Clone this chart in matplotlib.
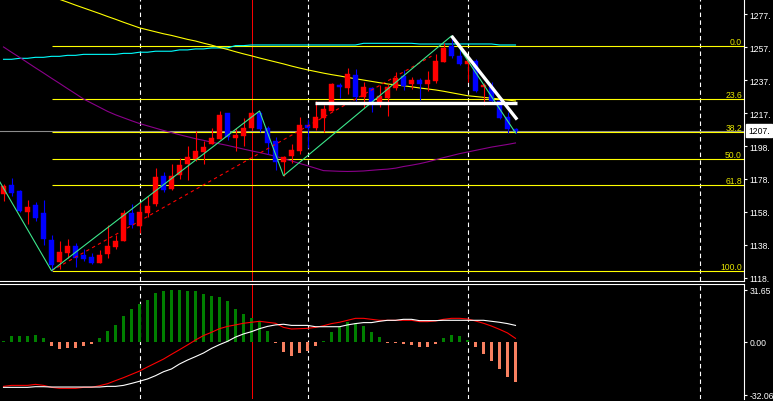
import matplotlib
matplotlib.use("Agg")
import matplotlib.pyplot as plt

plt.rcParams['font.family'] = ['Liberation Sans', 'DejaVu Sans']

# ---- candles, one per bar ----
opens = [1168.9, 1174.6, 1170.7, 1158.2, 1162.2, 1157.4, 1141.0, 1127.8, 1133.1, 1137.2,
         1131.9, 1130.7, 1127.2, 1132.7, 1136.7, 1140.6, 1157.4, 1149.7, 1157.4, 1162.8,
         1179.7, 1172.0, 1180.5, 1187.3, 1190.0, 1194.2, 1199.3, 1202.3, 1218.1, 1202.9,
         1204.3, 1208.8, 1218.3, 1209.0, 1201.1, 1188.5, 1191.8, 1195.2, 1211.0, 1208.8,
         1214.9, 1219.5, 1235.3, 1233.1, 1241.4, 1228.1, 1233.2, 1225.0, 1227.0, 1233.2,
         1240.3, 1235.4, 1238.1, 1235.7, 1237.4, 1249.2, 1259.0, 1252.6, 1248.0, 1249.9,
         1233.9, 1233.9, 1225.1, 1215.9, 1208.4]
highs = [1175.0, 1178.6, 1171.2, 1165.3, 1164.1, 1165.1, 1143.8, 1140.4, 1141.6, 1139.2,
         1135.5, 1132.9, 1134.7, 1150.1, 1143.8, 1159.0, 1162.7, 1164.2, 1167.5, 1184.6,
         1182.2, 1187.1, 1191.0, 1197.9, 1207.0, 1201.1, 1208.9, 1219.2, 1218.2, 1209.0,
         1214.9, 1219.3, 1219.3, 1210.2, 1203.5, 1192.2, 1199.3, 1215.7, 1214.5, 1225.6,
         1222.7, 1236.5, 1236.6, 1245.2, 1244.8, 1236.9, 1233.9, 1235.1, 1235.7, 1243.2,
         1244.2, 1239.7, 1239.2, 1243.6, 1253.9, 1260.3, 1264.9, 1257.0, 1251.5, 1250.9,
         1236.3, 1237.2, 1226.7, 1218.5, 1209.2]
lows = [1164.9, 1167.9, 1157.8, 1150.7, 1152.5, 1138.0, 1122.3, 1123.4, 1129.9, 1124.8,
        1128.2, 1126.6, 1127.0, 1130.2, 1135.5, 1140.4, 1148.5, 1145.1, 1154.7, 1161.6,
        1170.4, 1171.3, 1178.0, 1177.4, 1189.0, 1187.3, 1199.2, 1202.2, 1201.9, 1195.0,
        1198.2, 1207.8, 1206.4, 1193.2, 1183.7, 1180.0, 1187.7, 1193.2, 1196.7, 1207.8,
        1206.7, 1219.4, 1227.2, 1229.6, 1225.1, 1221.1, 1218.9, 1221.7, 1216.5, 1232.2,
        1232.1, 1232.7, 1226.1, 1231.2, 1236.6, 1248.8, 1251.4, 1247.2, 1236.7, 1230.8,
        1222.8, 1224.6, 1214.3, 1206.0, 1206.0]
closes = [1173.6, 1169.5, 1158.8, 1161.0, 1154.2, 1141.6, 1125.6, 1133.5, 1137.2, 1130.1,
          1129.6, 1127.2, 1131.9, 1137.2, 1140.4, 1157.4, 1150.1, 1158.0, 1161.5, 1179.1,
          1171.5, 1179.7, 1186.5, 1191.4, 1195.0, 1197.5, 1202.8, 1217.0, 1203.7, 1204.7,
          1209.2, 1218.1, 1208.4, 1200.1, 1188.2, 1191.2, 1195.6, 1210.8, 1209.2, 1215.7,
          1220.8, 1235.7, 1233.6, 1241.8, 1227.8, 1233.9, 1225.0, 1228.5, 1233.7, 1239.2,
          1234.5, 1238.1, 1235.7, 1238.3, 1249.8, 1257.4, 1252.9, 1248.0, 1249.9, 1231.6,
          1235.1, 1225.1, 1215.2, 1208.1, 1207.4]
bars = list(range(len(opens)))

# moving averages, one value per bar
ma_yellow = [1300.7, 1298.7, 1296.8, 1294.8, 1292.9, 1291.0, 1289.0, 1287.1, 1285.4, 1283.6,
             1281.9, 1280.2, 1278.5, 1276.7, 1275.0, 1273.2, 1271.5, 1269.8, 1268.6, 1267.4,
             1266.2, 1265.2, 1264.0, 1262.8, 1261.8, 1260.5, 1259.3, 1257.9, 1256.7, 1255.3,
             1254.0, 1252.8, 1251.5, 1250.3, 1249.1, 1247.9, 1246.6, 1245.4, 1244.3, 1243.3,
             1242.3, 1241.4, 1240.6, 1239.7, 1238.9, 1238.1, 1237.3, 1236.5, 1235.7, 1235.2,
             1234.6, 1234.0, 1233.3, 1232.7, 1232.1, 1231.3, 1230.4, 1229.5, 1228.6, 1228.1,
             1227.6, 1227.1, 1226.6, 1226.0, 1225.4]
ma_cyan = [1250.7, 1250.7, 1251.3, 1251.3, 1251.9, 1251.9, 1252.5, 1252.5, 1253.1, 1253.1,
           1253.7, 1253.7, 1253.7, 1253.7, 1253.7, 1254.3, 1254.3, 1255.0, 1255.0, 1255.6,
           1255.6, 1255.6, 1256.4, 1256.4, 1257.0, 1257.0, 1257.6, 1257.6, 1257.6, 1259.0,
           1259.0, 1259.4, 1259.4, 1259.4, 1259.4, 1259.4, 1259.4, 1259.4, 1259.4, 1259.4,
           1259.4, 1259.4, 1259.4, 1259.4, 1259.4, 1260.4, 1260.4, 1260.4, 1260.4, 1260.4,
           1260.4, 1260.4, 1260.0, 1260.0, 1260.0, 1260.0, 1260.0, 1260.0, 1260.0, 1260.0,
           1260.0, 1260.0, 1259.4, 1259.4, 1259.4]
ma_purple = [1258.2, 1255.0, 1251.9, 1248.7, 1245.5, 1242.4, 1239.2, 1236.1, 1232.9, 1229.8,
             1226.6, 1224.1, 1221.6, 1219.1, 1217.0, 1215.2, 1213.4, 1211.7, 1210.3, 1208.9,
             1207.5, 1206.2, 1204.9, 1203.7, 1202.5, 1201.5, 1200.4, 1199.4, 1198.4, 1197.3,
             1196.2, 1195.1, 1194.1, 1193.0, 1191.8, 1190.4, 1189.0, 1187.5, 1186.1, 1184.6,
             1183.1, 1182.9, 1182.7, 1182.6, 1182.7, 1182.9, 1183.3, 1183.7, 1184.0, 1184.6,
             1185.6, 1186.4, 1187.3, 1188.4, 1189.7, 1191.0, 1192.2, 1193.4, 1194.4, 1195.4,
             1196.4, 1197.4, 1198.2, 1199.0, 1199.9]

# zigzag swing points
zz_bars = [-1, 6, 32, 35, 56, 64]
zz_prices = [1180.8, 1122.3, 1219.3, 1180.0, 1264.9, 1206.0]

# fibonacci retracement
fib_low, fib_high = 1122.0, 1258.6
fib_start = 6
fib_levels = [0.0, 23.6, 38.2, 50.0, 61.8, 100.0]

# hand drawn lines
chan_bars, chan_prices = [6, 53.5], [1122.3, 1252.6]
flat_bars, flat_prices = [38.9, 64.2], [1224.3, 1224.3]
trend_bars, trend_prices = [56, 64.2], [1264.9, 1214.1]

bid = 1207.40
bid_label = "1207."
grid_bars = [17, 38, 58, 87]
marker_bar = 31

price_ticks = [1277.90, 1257.93, 1237.95, 1217.98, 1198.00,
               1178.03, 1158.05, 1138.08, 1118.10]
price_labels = ["1277.", "1257.", "1237.", "1217.", "1198.",
                "1178.", "1158.", "1138.", "1118."]

# oscillator
hist = [0.6, 3.65, 3.65, 3.65, 4.26, 2.43, -2.23, -4.06, -3.45, -3.45,
        -2.23, -1.01, 2.43, 6.90, 10.55, 16.03, 20.09, 23.13, 25.56, 29.82,
        31.04, 31.65, 31.65, 31.04, 31.04, 29.21, 28.0, 27.39, 24.95, 20.09,
        17.04, 14.61, 12.5, 6.70, -0.61, -5.88, -8.32, -6.49, -5.27, -2.43,
        0.61, 6.09, 9.13, 12.17, 11.56, 9.74, 6.09, 3.04, -0.4, -0.4,
        -1.22, -1.83, -3.04, -3.04, -1.22, 2.43, 4.26, 3.65, 1.22, -3.04,
        -7.30, -11.56, -16.43, -21.30, -24.35]
line_white = [-27.6, -27.6, -27.6, -27.6, -27.2, -27.2, -27.4, -27.4, -27.4, -27.4,
              -27.4, -27.4, -27.4, -27.0, -27.0, -26.4, -25.2, -23.9, -22.5, -20.5,
              -18.1, -16.4, -13.4, -11.0, -8.9, -6.7, -3.9, -1.6, 0.4, 3.0,
              4.9, 6.3, 8.1, 9.5, 10.4, 10.8, 10.1, 10.1, 10.1, 9.3,
              9.3, 9.3, 9.3, 10.4, 11.2, 11.8, 11.8, 12.6, 13.2, 13.2,
              13.8, 13.8, 13.0, 13.0, 13.0, 13.2, 13.2, 13.2, 13.2, 13.2,
              13.2, 12.6, 12.0, 11.2, 10.1]
line_red = [-27.0, -26.4, -26.4, -26.4, -25.8, -26.4, -27.6, -28.2, -28.2, -28.2,
            -27.6, -27.6, -26.6, -25.4, -23.5, -21.7, -19.7, -17.7, -15.2, -12.8,
            -10.4, -7.5, -4.7, -1.8, 1.2, 3.9, 5.9, 8.1, 9.5, 10.4,
            11.4, 12.0, 12.6, 12.0, 11.4, 8.9, 7.9, 8.1, 8.3, 8.9,
            9.9, 11.2, 12.0, 13.2, 14.4, 14.4, 13.8, 13.2, 13.2, 13.2,
            13.2, 13.2, 12.4, 12.4, 12.8, 13.8, 14.4, 14.4, 14.0, 12.8,
            11.4, 9.7, 7.7, 5.5, 2.2]
osc_ticks = [31.65, 0.0, -32.06]
osc_labels = ["31.65", "0.00", "-32.06"]

# ---- layout (pixel based, 773 x 402) ----
W, H = 773, 402
fig = plt.figure(figsize=(W / 100, H / 100), dpi=100, facecolor="black")
ax = fig.add_axes([0, 120 / H, 744 / W, 282 / H], facecolor="black")
ax2 = fig.add_axes([0, 2 / H, 744 / W, 115.5 / H], facecolor="black")

# bar centres on pixel centres (8 px per bar)
xlim = (-3.5 / 8, (744 - 3.5) / 8)
px = 0.8  # about one screen pixel, in points

for a in (ax, ax2):
    a.set_xlim(*xlim)
    a.set_xticks([])
    for s in a.spines.values():
        s.set_visible(False)
    a.spines["right"].set_visible(True)
    a.spines["right"].set_color("white")
    a.spines["right"].set_linewidth(px)
    a.yaxis.tick_right()
    a.tick_params(axis="y", colors="white", length=2.5, width=px, pad=1.6, labelsize=6.2)
    for g in grid_bars:
        a.axvline(g, color="white", lw=px, ls=(0, (4, 3)), zorder=1)
    a.axvline(marker_bar, color="#ff0000", lw=0.7, zorder=1)

ax.spines["bottom"].set_visible(True)
ax.spines["bottom"].set_color("white")
ax.spines["bottom"].set_linewidth(px)
ax2.spines["top"].set_visible(True)
ax2.spines["top"].set_color("white")
ax2.spines["top"].set_linewidth(px)

# ---- main price window ----
ax.set_ylim(1116.09, 1287.31)
ax.set_yticks(price_ticks)
ax.set_yticklabels(price_labels)

ax.axhline(bid, color="#8c8c8c", lw=px, zorder=2)

for lvl in fib_levels:
    p = fib_high - lvl / 100 * (fib_high - fib_low)
    ax.hlines(p, fib_start, xlim[1], color="#ffff00", lw=px, zorder=2)
    ax.annotate(f"{lvl:.1f}", xy=(1.0, p), xycoords=("axes fraction", "data"),
                xytext=(-1.5, 1.5), textcoords="offset points", ha="right",
                va="baseline", color="#e6e600", fontsize=6.2)

ax.plot(bars, ma_cyan, color="#00ffff", lw=px, zorder=3)
ax.plot(bars, ma_yellow, color="#ffff00", lw=px, zorder=3)
ax.plot(bars, ma_purple, color="#8b008b", lw=px, zorder=3)

colors = ["#ff0000" if c >= o else "#0000ff" for o, c in zip(opens, closes)]
bottoms = [min(o, c) for o, c in zip(opens, closes)]
heights = [max(abs(c - o), 0.6) for o, c in zip(opens, closes)]
ax.vlines(bars, lows, highs, colors=colors, lw=px, zorder=4)
ax.bar(bars, heights, bottom=bottoms, width=0.6, color=colors, edgecolor=colors,
       lw=0.3, zorder=5)

ax.plot(chan_bars, chan_prices, color="#ff0000", lw=px, ls=(0, (3, 3)), zorder=6)
ax.plot(zz_bars, zz_prices, color="#3ce88c", lw=px, zorder=6)
ax.plot(flat_bars, flat_prices, color="white", lw=2.4, solid_capstyle="butt", zorder=7)
ax.plot(trend_bars, trend_prices, color="white", lw=2.4, solid_capstyle="butt", zorder=7)

ax.annotate(bid_label, xy=(1.0, bid), xycoords=("axes fraction", "data"),
            xytext=(3.0, 0), textcoords="offset points", ha="left", va="center",
            color="black", fontsize=6.2,
            bbox=dict(boxstyle="square,pad=0.25", fc="white", ec="white"),
            annotation_clip=False)

# ---- oscillator window ----
ax2.set_ylim(-34.69, 35.6)
ax2.set_yticks(osc_ticks)
ax2.set_yticklabels(osc_labels)
hcolors = ["#008000" if v >= 0 else "#f88060" for v in hist]
ax2.bar(bars, hist, width=0.375, color=hcolors, lw=0, zorder=3)
ax2.plot(bars, line_red, color="#ff0000", lw=px, zorder=4)
ax2.plot(bars, line_white, color="white", lw=px, zorder=4)

fig.savefig("out.png", dpi=100, facecolor="black")
